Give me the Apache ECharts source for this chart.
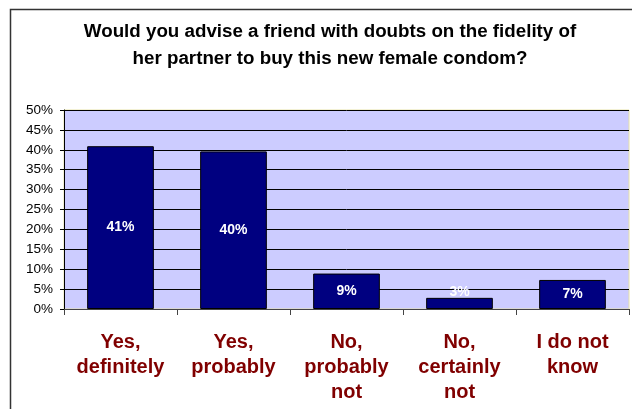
<!DOCTYPE html>
<html>
<head>
<meta charset="utf-8">
<script src="https://cdn.jsdelivr.net/npm/echarts@6/dist/echarts.min.js"></script>
<style>
html,body{margin:0;padding:0;background:#fff;}
#c{width:632px;height:409px;}
</style>
</head>
<body>
<div id="c"></div>
<script>
var titleText = 'Would you advise a friend with doubts on the fidelity of\nher partner to buy this new female condom?';
var categories = ['Yes,\ndefinitely', 'Yes,\nprobably', 'No,\nprobably\nnot', 'No,\ncertainly\nnot', 'I do not\nknow'];
var values = [40.9, 39.6, 8.9, 2.8, 7.3];
var yTicks = [0, 5, 10, 15, 20, 25, 30, 35, 40, 45, 50];

var chart = echarts.init(document.getElementById('c'), null, {renderer: 'canvas'});
chart.setOption({
  animation: false,
  backgroundColor: '#ffffff',
  graphic: [{
    type: 'rect', z: -1,
    shape: {x: 10.5, y: 9.5, width: 640, height: 420},
    style: {fill: 'none', stroke: '#333', lineWidth: 1.5}
  }],
  title: {
    text: titleText,
    left: 325, top: 13, textAlign: 'center',
    textStyle: {fontFamily: 'Liberation Sans, Arial', fontWeight: 'bold', fontSize: 18.75, lineHeight: 27, color: '#000'}
  },
  grid: {
    left: 64, right: 3, top: 110, bottom: 100,
    show: true, backgroundColor: '#CCCCFF', borderColor: '#e6e2a8', borderWidth: 1
  },
  xAxis: {
    type: 'category',
    data: categories,
    axisLine: {lineStyle: {color: '#444', width: 1}},
    axisTick: {show: true, length: 6, alignWithLabel: false, lineStyle: {color: '#444'}},
    axisLabel: {
      interval: 0, margin: 21,
      fontFamily: 'Liberation Sans, Arial', fontWeight: 'bold', fontSize: 20, lineHeight: 25, color: '#800000'
    }
  },
  yAxis: {
    type: 'value',
    min: yTicks[0], max: yTicks[yTicks.length - 1], interval: 5,
    axisLine: {show: true, lineStyle: {color: '#000', width: 1}},
    axisTick: {show: true, length: 4, lineStyle: {color: '#000'}},
    splitLine: {show: true, lineStyle: {color: '#000', width: 1}},
    axisLabel: {
      margin: 11,
      formatter: function (v) { return v + '%'; },
      fontFamily: 'Liberation Sans, Arial', fontSize: 13.5, color: '#000'
    }
  },
  series: [{
    type: 'bar',
    data: values.map(function (v) {
      return v < 5 ? {value: v, label: {offset: [0, -11]}} : v;
    }),
    barCategoryGap: '41%',
    itemStyle: {color: '#000080', borderColor: '#000', borderWidth: 1},
    label: {
      show: true, position: 'inside',
      formatter: function (p) { return Math.round(p.value) + '%'; },
      fontFamily: 'Liberation Sans, Arial', fontWeight: 'bold', fontSize: 14, color: '#fff'
    }
  }]
});
</script>
</body>
</html>
